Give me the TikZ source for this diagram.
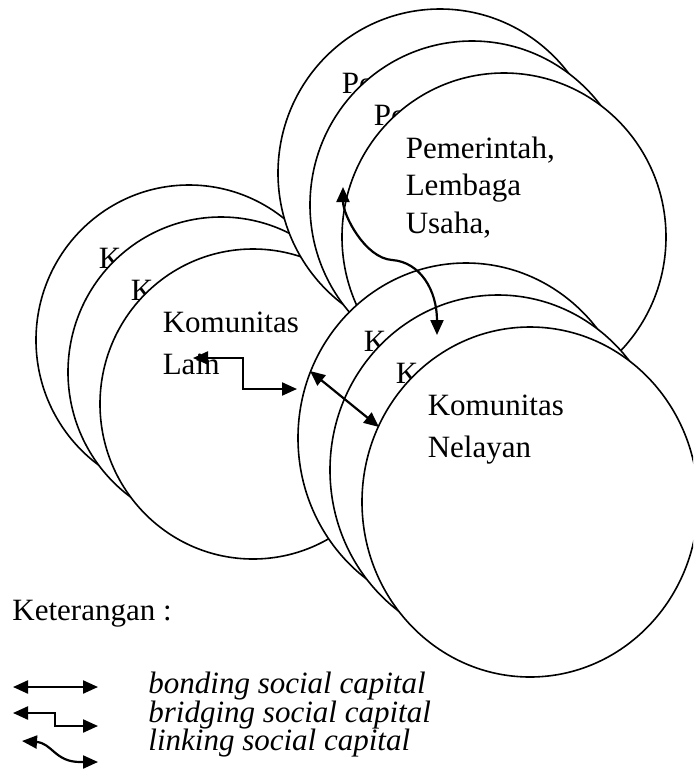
\documentclass[tikz,border=0pt]{standalone}
\usepackage{fontspec}
\setmainfont{Liberation Serif}
\usetikzlibrary{arrows.meta}

\begin{document}
\begin{tikzpicture}[x=0.5pt, y=-0.5pt,
		ringline/.style={fill=white, line width=0.8pt},
		ringtext/.style={anchor=north west, inner sep=0pt, align=left, font=\fontsize{15.5}{21}\selectfont},
		keytext/.style={anchor=base west, inner sep=0pt, font=\fontsize{15.5}{21}\selectfont\itshape},
		capline/.style={line width=1.1pt, >={Triangle[length=7.5pt,width=6.5pt]}, <->}]
		\clip (0,0) rectangle (693,773);
		
		% Komunitas Lain
		\foreach \d/\txt in {64/K, 32/K, 0/{Komunitas\\Lain}}
			\filldraw[ringline] (253-\d,404-\d) ellipse [x radius=153, y radius=155]
				(162-\d,311-\d) node[ringtext] (lain\d) {\txt};
		
		% Pemerintah
		\foreach \d/\txt in {64/Pe, 32/Pe, 0/{Pemerintah,\\Lembaga\\Usaha,}}
			\filldraw[ringline] (504-\d,237-\d) ellipse [x radius=162, y radius=164]
				(405-\d,136-\d) node[ringtext, font=\fontsize{15.5}{18.75}\selectfont] (pem\d) {\txt};
		
		% Komunitas Nelayan
		\foreach \d/\txt in {64/K, 32/K, 0/{Komunitas\\Nelayan}}
			\filldraw[ringline] (530-\d,502-\d) ellipse [x radius=168, y radius=175]
				(427-\d,394-\d) node[ringtext] (nel\d) {\txt};
		
		% Coordinates
		\coordinate (Br_0) at (193,358);
		\coordinate (Br_1) at (243,358);
		\coordinate (Br_2) at (243,389);
		\coordinate (Br_3) at (297,389);
		
		\coordinate (Bo_0) at (310,371);
		\coordinate (Bo_1) at (379,427);
		
		\coordinate (Li_0) at (343,187);
		\coordinate (Li_1) at (392,260);
		\coordinate (Li_2) at (437,335);
		
		% Bridging, bonding, linking
		\draw[capline] (Br_0) -- (Br_1) -- (Br_2) -- (Br_3);
		\draw[capline] (Bo_0) -- (Bo_1);
		\draw[capline] (Li_0) .. controls (343,215) and (365,258) .. (Li_1) .. controls (420,262) and (437,290) .. (Li_2);
		
		% Legend
		\node[anchor=base west, inner sep=0pt, font=\fontsize{15.5}{21}\selectfont] (ket) at (12,620) {Keterangan :};
		
		\coordinate (KBo_0) at (13,687);
		\coordinate (KBo_1) at (98,687);
		\coordinate (KBr_0) at (13,713);
		\coordinate (KBr_1) at (55,713);
		\coordinate (KBr_2) at (55,726);
		\coordinate (KBr_3) at (98,726);
		\coordinate (KLi_0) at (22,741);
		\coordinate (KLi_1) at (80,762);
		\coordinate (KLi_2) at (98,762);
		
		\draw[capline] (KBo_0) -- (KBo_1);
		\draw[capline] (KBr_0) -- (KBr_1) -- (KBr_2) -- (KBr_3);
		\draw[capline] (KLi_0) .. controls (52,743) and (55,762) .. (KLi_1) -- (KLi_2);
		
		\node[keytext] (bonding) at (148,693) {bonding social capital};
		\node[keytext] (bridging) at (148,722) {bridging social capital};
		\node[keytext] (linking) at (148,750) {linking social capital};
	\end{tikzpicture}
\end{document}
